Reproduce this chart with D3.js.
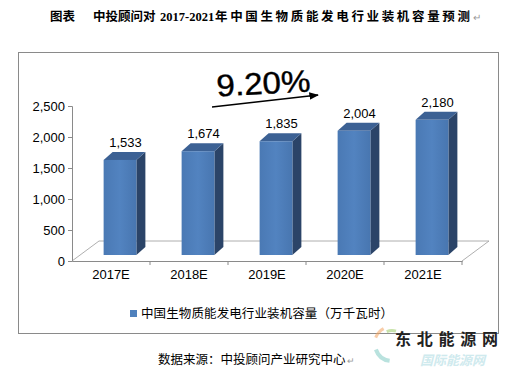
<!DOCTYPE html>
<html lang="zh">
<head>
<meta charset="utf-8">
<script src="https://d3js.org/d3.v7.min.js"></script>
<style>
    body { margin: 0; background: #fff; }
    svg { display: block; }
</style>
</head>
<body>
<script>
    // chart data
    var categories = ["2017E", "2018E", "2019E", "2020E", "2021E"];
    var values = [1533, 1674, 1835, 2004, 2180];
    var yTicks = [0, 500, 1000, 1500, 2000, 2500];
    var seriesName = "中国生物质能发电行业装机容量（万千瓦时）";
    var growth = "9.20%";

    var W = 505, H = 368;
    var plot = {left: 72, right: 462, top: 106, bottom: 261};
    var floorDepth = {dx: 27, dy: -20};
    var barDepth = {dx: 9, dy: -8};
    var barShift = {dx: 9, dy: -6};

    var svg = d3.select("body").append("svg")
        .attr("width", W).attr("height", H);

    var sans = "'Liberation Sans', Arial, sans-serif";
    var cjk = "'Noto Sans CJK SC', sans-serif";

    // title
    var title = svg.append("g")
        .attr("font-weight", "bold")
        .attr("font-size", 12.5)
        .attr("fill", "#000");
    title.append("text").attr("x", 50).attr("y", 21).attr("font-family", cjk).text("图表");
    title.append("text").attr("x", 93).attr("y", 21).attr("font-family", cjk).text("中投顾问对");
    title.append("text").attr("x", 160).attr("y", 21)
        .attr("font-family", "'Liberation Serif', 'Times New Roman', serif")
        .attr("font-size", 12.5).text("2017-2021");
    title.append("text").attr("x", 215).attr("y", 21).attr("font-family", cjk)
        .attr("textLength", 255).attr("lengthAdjust", "spacing").text("年中国生物质能发电行业装机容量预测");
    svg.append("text").attr("x", 473).attr("y", 21).attr("font-size", 10)
        .attr("fill", "#999").attr("font-family", sans).text("↵");

    // chart frame
    svg.append("rect")
        .attr("x", 18.5).attr("y", 52.5)
        .attr("width", 480).attr("height", 281)
        .attr("fill", "none").attr("stroke", "#8a8a8a");

    var x = d3.scaleBand().domain(categories).range([plot.left, plot.right]);
    var y = d3.scaleLinear().domain([0, 2500]).range([plot.bottom, plot.top]);

    // floor
    var fl = plot.left, fr = plot.right, fb = plot.bottom;
    svg.append("path")
        .attr("d", "M" + fl + "," + fb +
            "L" + (fl + floorDepth.dx) + "," + (fb + floorDepth.dy) +
            "L" + (fr + floorDepth.dx) + "," + (fb + floorDepth.dy) +
            "L" + fr + "," + fb)
        .attr("fill", "none").attr("stroke", "#9a9a9a").attr("stroke-width", 0.8);

    // y axis
    var yAxis = svg.append("g")
        .attr("transform", "translate(" + plot.left + ",0)")
        .call(d3.axisLeft(y).tickValues(yTicks).tickSize(4).tickPadding(3)
            .tickFormat(d3.format(",")));
    yAxis.select(".domain").attr("stroke", "#8a8a8a");
    yAxis.selectAll(".tick line").attr("stroke", "#8a8a8a");
    yAxis.selectAll("text").attr("font-family", sans).attr("font-size", 13).attr("fill", "#000");

    // x axis
    var xAxis = svg.append("g")
        .attr("transform", "translate(0," + plot.bottom + ")")
        .call(d3.axisBottom(x).tickSize(0).tickPadding(9));
    xAxis.select(".domain").attr("stroke", "#8a8a8a");
    xAxis.selectAll("text").attr("font-family", sans).attr("font-size", 13).attr("fill", "#000");
    xAxis.selectAll(".sep").data(categories.slice(1).concat(["end"])).enter()
        .append("line")
        .attr("x1", function(d, i) { return x(categories[0]) + x.bandwidth() * (i + 1); })
        .attr("x2", function(d, i) { return x(categories[0]) + x.bandwidth() * (i + 1); })
        .attr("y1", 0).attr("y2", 4)
        .attr("stroke", "#8a8a8a");

    // bars
    var barW = x.bandwidth() * 0.42;
    var bars = svg.append("g").selectAll("g").data(categories).enter().append("g");

    function bx(i) { return x(categories[i]) + (x.bandwidth() - barW) / 2 + barShift.dx; }
    function by(i) { return y(values[i]) + barShift.dy; }
    var base = plot.bottom + barShift.dy;

    var grad = svg.append("defs").append("linearGradient")
        .attr("id", "front").attr("x1", 0).attr("x2", 1).attr("y1", 0).attr("y2", 0);
    grad.append("stop").attr("offset", 0).attr("stop-color", "#4a79b4");
    grad.append("stop").attr("offset", 0.5).attr("stop-color", "#5283c0");
    grad.append("stop").attr("offset", 1).attr("stop-color", "#4876b0");

    // side face
    bars.append("path")
        .attr("d", function(d, i) {
            var x0 = bx(i) + barW, t = by(i);
            return "M" + x0 + "," + t + "L" + (x0 + barDepth.dx) + "," + (t + barDepth.dy) +
                "L" + (x0 + barDepth.dx) + "," + (base + barDepth.dy) + "L" + x0 + "," + base + "Z";
        })
        .attr("fill", "#2b4468");
    // top face
    bars.append("path")
        .attr("d", function(d, i) {
            var x0 = bx(i), t = by(i);
            return "M" + x0 + "," + t + "L" + (x0 + barDepth.dx) + "," + (t + barDepth.dy) +
                "L" + (x0 + barW + barDepth.dx) + "," + (t + barDepth.dy) + "L" + (x0 + barW) + "," + t + "Z";
        })
        .attr("fill", "#3c6194");
    // front face
    bars.append("rect")
        .attr("x", function(d, i) { return bx(i); })
        .attr("y", function(d, i) { return by(i); })
        .attr("width", barW)
        .attr("height", function(d, i) { return base - by(i); })
        .attr("fill", "url(#front)");

    // value labels
    bars.append("text")
        .attr("x", function(d, i) { return bx(i) + barW / 2 + barDepth.dx / 2 + 1; })
        .attr("y", function(d, i) { return by(i) - 13; })
        .attr("text-anchor", "middle")
        .attr("font-family", sans).attr("font-size", 13)
        .text(function(d, i) { return d3.format(",")(values[i]); });

    // growth annotation
    svg.append("text")
        .attr("transform", "translate(264,94) rotate(-3)")
        .attr("text-anchor", "middle")
        .attr("font-family", sans).attr("font-size", 31)
        .attr("stroke", "#000").attr("stroke-width", 0.4)
        .attr("textLength", 94).attr("lengthAdjust", "spacingAndGlyphs")
        .text(growth);
    svg.append("defs").append("marker")
        .attr("id", "arr").attr("viewBox", "0 0 10 10")
        .attr("refX", 9).attr("refY", 5)
        .attr("markerWidth", 6).attr("markerHeight", 6)
        .attr("orient", "auto")
        .append("path").attr("d", "M0,1L10,5L0,9Z").attr("fill", "#000");
    svg.append("line")
        .attr("x1", 212).attr("y1", 107).attr("x2", 318).attr("y2", 95)
        .attr("stroke", "#000").attr("stroke-width", 1.6)
        .attr("marker-end", "url(#arr)");

    // legend
    svg.append("rect").attr("x", 130).attr("y", 310).attr("width", 7).attr("height", 7)
        .attr("fill", "#4f81bd");
    svg.append("text").attr("x", 141).attr("y", 318)
        .attr("font-family", cjk).attr("font-size", 12.5)
        .attr("textLength", 252).attr("lengthAdjust", "spacing")
        .text(seriesName);

    // watermark logo
    var logo = svg.append("g").attr("transform", "translate(392,344)").attr("opacity", 0.55);
    var arc = d3.arc();
    [["#f4a460", 16, 19, -1.2, -0.5], ["#9ccc65", 12, 15, -0.4, 0.3], ["#80cbc4", 15, 19, -3.0, -1.9]]
        .forEach(function(a) {
            logo.append("path")
                .attr("d", arc({innerRadius: a[1], outerRadius: a[2], startAngle: a[3], endAngle: a[4]}))
                .attr("fill", a[0]);
        });
    svg.append("text").attr("x", 420).attr("y", 365)
        .attr("font-family", cjk).attr("font-size", 13).attr("font-weight", "bold")
        .attr("font-style", "italic").attr("fill", "#cfeaee").text("国际能源网");
    svg.append("text").attr("x", 395).attr("y", 345)
        .attr("font-family", cjk).attr("font-size", 16).attr("font-weight", "bold")
        .attr("fill", "#222").attr("textLength", 103).attr("lengthAdjust", "spacing")
        .text("东北能源网");

    // source line
    svg.append("text").attr("x", 158).attr("y", 364)
        .attr("font-family", cjk).attr("font-size", 12.5)
        .text("数据来源：中投顾问产业研究中心");
    svg.append("text").attr("x", 347).attr("y", 364).attr("font-size", 9)
        .attr("fill", "#999").attr("font-family", sans).text("↵");
</script>
</body>
</html>
